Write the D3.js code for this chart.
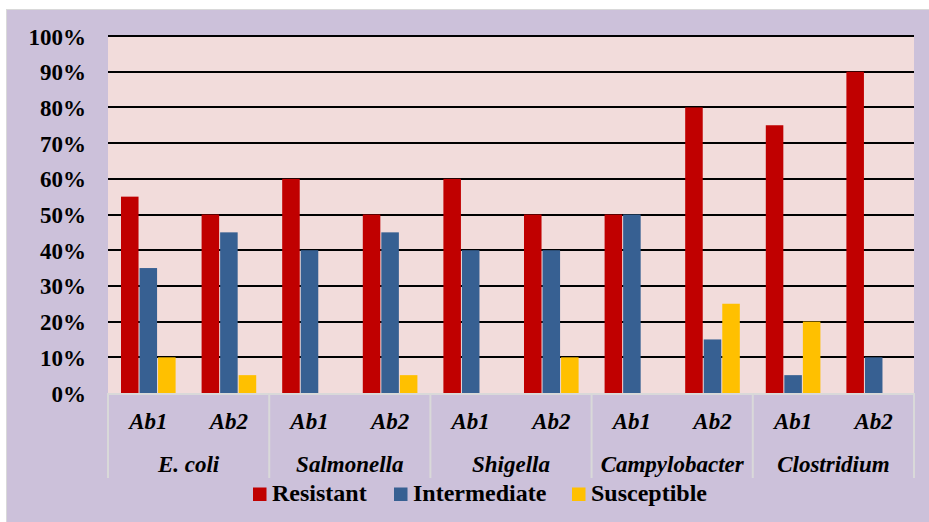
<!DOCTYPE html>
<html>
<head>
<meta charset="utf-8">
<script src="https://cdn.jsdelivr.net/npm/d3@7"></script>
</head>
<body style="margin:0;padding:0;background:#ffffff">
<svg id="chart" width="929" height="522" style="display:block"></svg>
<script>
// Antimicrobial susceptibility by organism and antibiotic
const organisms = ["E. coli", "Salmonella", "Shigella", "Campylobacter", "Clostridium"];
const antibiotics = ["Ab1", "Ab2"];
const seriesNames = ["Resistant", "Intermediate", "Susceptible"];
const seriesColors = ["#C00000", "#376092", "#FFC000"];

// values in percent, one entry per organism/antibiotic pair (E. coli Ab1, E. coli Ab2, ...)
const resistant    = [55, 50, 60, 50, 60, 50, 50, 80, 75, 90];
const intermediate = [35, 45, 40, 45, 40, 40, 50, 15,  5, 10];
const susceptible  = [10,  5,  0,  5,  0, 10,  0, 25, 20,  0];
const yTicks = [0, 10, 20, 30, 40, 50, 60, 70, 80, 90, 100];

const series = [resistant, intermediate, susceptible];
const rows = [];
organisms.forEach((o, i) => antibiotics.forEach((a, j) => {
  const k = i * antibiotics.length + j;
  rows.push({ key: o + "|" + a, organism: o, antibiotic: a, values: series.map(s => s[k]) });
}));

const FONT = "'Liberation Serif'";
const styleText = (sel, size, italic) => sel
  .attr("font-family", null)
  .style("font-family", FONT).style("font-weight", "bold")
  .style("font-style", italic ? "italic" : "normal")
  .style("font-size", size + "px").style("fill", "#000");

const svg = d3.select("#chart");
const W = 929, H = 522;
const plot = { left: 108, right: 914, top: 36, bottom: 393 };

// chart background
svg.append("rect").attr("x", 6.5).attr("y", 9.5).attr("width", W).attr("height", H)
  .attr("fill", "#CCC1DA").attr("stroke", "#D9D9D9").attr("stroke-width", 1);

// plot area
svg.append("rect").attr("x", plot.left).attr("y", plot.top)
  .attr("width", plot.right - plot.left).attr("height", plot.bottom - plot.top)
  .attr("fill", "#F2DCDB");

const x0 = d3.scaleBand().domain(rows.map(r => r.key))
  .range([plot.left, plot.right]).paddingInner(0.31).paddingOuter(0.155);
const y = d3.scaleLinear().domain([0, 100]).range([plot.bottom, plot.top]);
const x1 = d3.scaleBand().domain(seriesNames).range([0, x0.bandwidth()]).padding(0);

// gridlines
svg.append("g").selectAll("line").data(yTicks.filter(t => t > 0)).join("line")
  .attr("x1", plot.left).attr("x2", plot.right)
  .attr("y1", d => Math.round(y(d))).attr("y2", d => Math.round(y(d)))
  .attr("stroke", "#000").attr("stroke-width", 2);

// y axis labels
const yAxis = d3.axisLeft(y).tickValues(yTicks).tickFormat(d => d + "%").tickSize(0).tickPadding(0);
const gy = svg.append("g").attr("transform", "translate(86,0)").call(yAxis);
gy.attr("font-family", null).attr("font-size", null);
gy.select(".domain").remove();
styleText(gy.selectAll("text"), 23, false).attr("dy", "0.35em");

// bars
const groups = svg.append("g").selectAll("g").data(rows).join("g")
  .attr("transform", d => `translate(${x0(d.key)},0)`);
groups.selectAll("rect").data(d => d.values.map((v, i) => ({ v, name: seriesNames[i], color: seriesColors[i] })))
  .join("rect")
  .attr("x", d => x1(d.name) + 0.5)
  .attr("width", x1.bandwidth() - 1)
  .attr("y", d => y(d.v))
  .attr("height", d => y(0) - y(d.v))
  .attr("fill", d => d.color);

// category axis: line, separators and labels
const groupW = (plot.right - plot.left) / organisms.length;
svg.append("line").attr("x1", plot.left).attr("x2", plot.right)
  .attr("y1", plot.bottom + 1).attr("y2", plot.bottom + 1)
  .attr("stroke", "#D9D9D9").attr("stroke-width", 2);
svg.append("g").selectAll("line").data(d3.range(organisms.length + 1)).join("line")
  .attr("x1", i => plot.left + i * groupW).attr("x2", i => plot.left + i * groupW)
  .attr("y1", plot.bottom).attr("y2", 478)
  .attr("stroke", "#D9D9D9").attr("stroke-width", 2);

const xAxis = d3.axisBottom(x0).tickSize(0).tickPadding(0).tickFormat(k => k.split("|")[1]);
const gx = svg.append("g").attr("transform", `translate(0,${plot.bottom})`).call(xAxis);
gx.attr("font-family", null).attr("font-size", null);
gx.select(".domain").remove();
styleText(gx.selectAll("text"), 23, true).attr("dy", null).attr("y", 36);

styleText(svg.append("g").selectAll("text").data(organisms).join("text")
  .attr("x", (d, i) => plot.left + (i + 0.5) * groupW)
  .attr("y", 472)
  .attr("text-anchor", "middle")
  .text(d => d), 23, true);

// legend
const legendX = [253, 394, 572];
const lg = svg.append("g").selectAll("g").data(seriesNames).join("g")
  .attr("transform", (d, i) => `translate(${legendX[i]},487.5)`);
lg.append("rect").attr("width", 13.5).attr("height", 13.5).attr("fill", (d, i) => seriesColors[i]);
styleText(lg.append("text").attr("x", 19).attr("y", 13.5).text(d => d), 24, false);
</script>
</body>
</html>
